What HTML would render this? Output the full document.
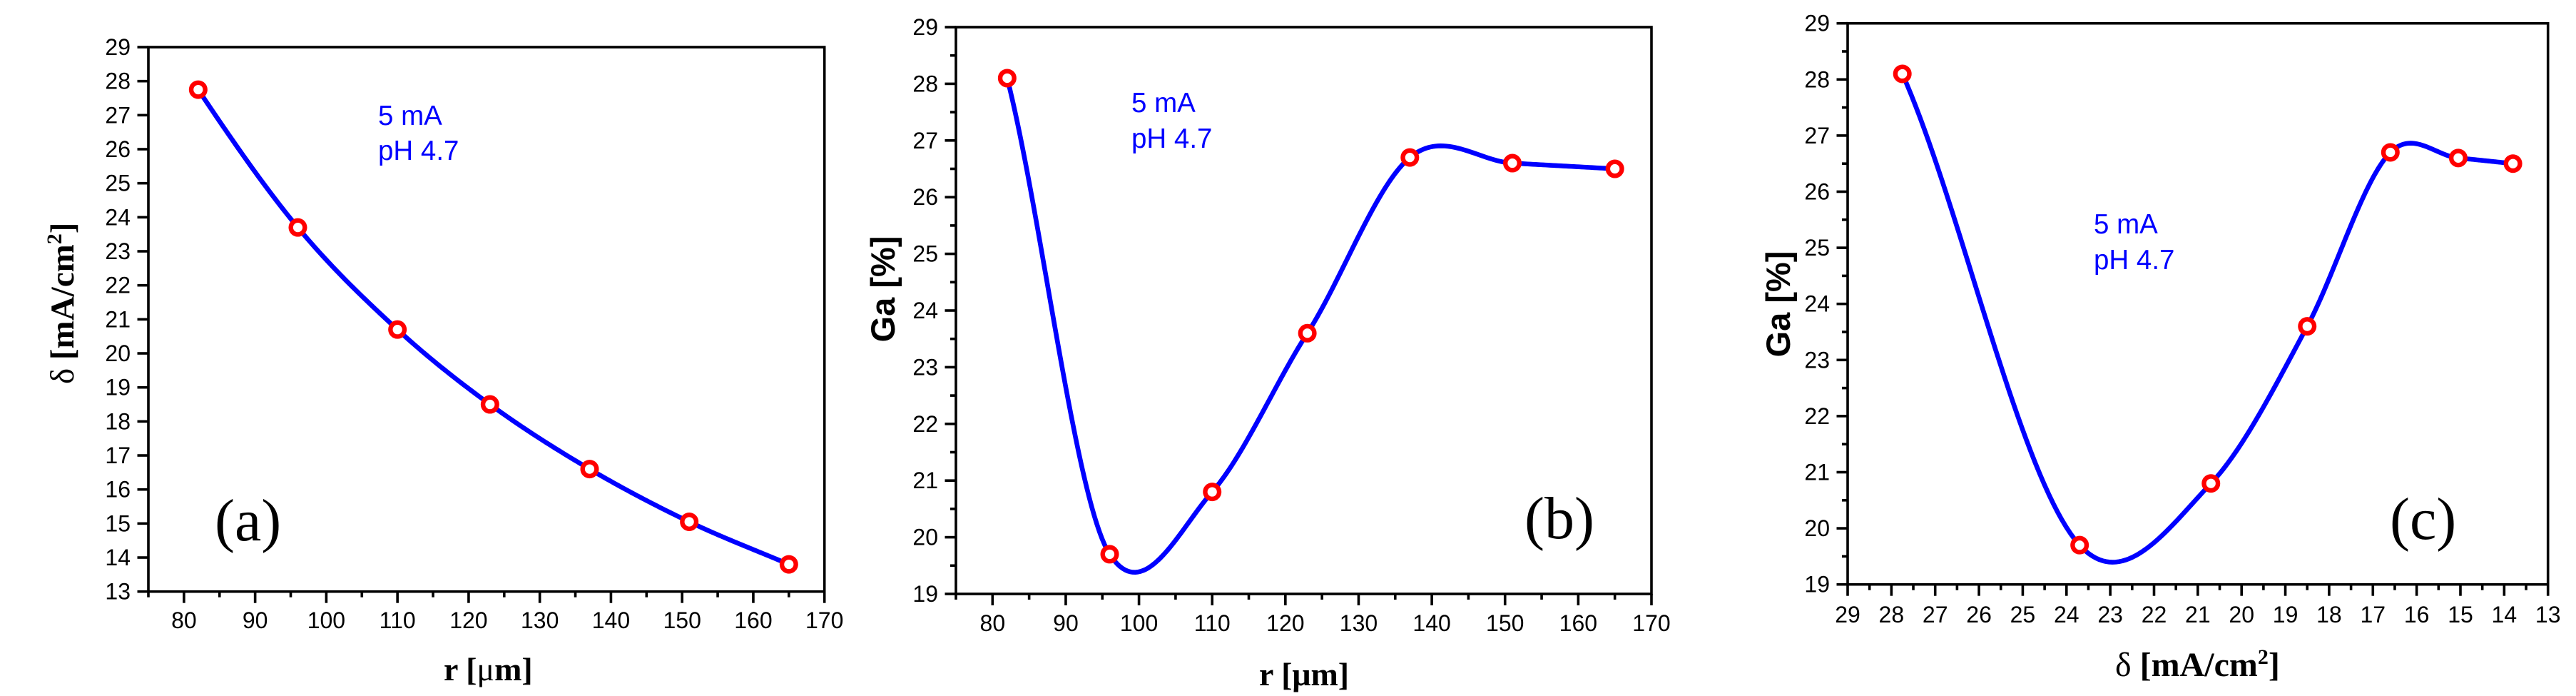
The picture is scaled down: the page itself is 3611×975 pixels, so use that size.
<!DOCTYPE html>
<html lang="en">
<head>
<meta charset="utf-8">
<title>Current density and gallium content charts</title>
<style>
  html, body { margin: 0; padding: 0; background: #fff; }
  svg { display: block; }
  .tick-label { font-family: "Liberation Sans", sans-serif; font-size: 32px; fill: #000; }
  .note { font-family: "Liberation Sans", sans-serif; font-size: 38.5px; fill: #0000ff; }
  .panel-tag { font-family: "Liberation Serif", serif; font-size: 84px; fill: #000; }
  .serif-title { font-family: "Liberation Serif", serif; font-size: 47px; font-weight: bold; fill: #000; }
  .sans-title { font-family: "Liberation Sans", sans-serif; font-size: 47px; font-weight: bold; fill: #000; }
  .thin { font-weight: normal; }
</style>
</head>
<body>
<svg id="figure" xmlns="http://www.w3.org/2000/svg" width="3611" height="975" viewBox="0 0 3611 975">
  <rect x="0" y="0" width="3611" height="975" fill="#ffffff"/>

  <g id="panel-a"></g>
  <g id="panel-b"></g>
  <g id="panel-c"></g>

  <text class="serif-title" transform="translate(103,538) rotate(-90)"><tspan class="thin">δ</tspan> [mA/cm<tspan font-size="30" dy="-17">2</tspan><tspan dy="17">]</tspan></text>
  <text class="serif-title" x="622" y="953" style="font-size:46px">r [<tspan class="thin">μ</tspan>m]</text>
  <text class="note" x="530" y="175">5 mA</text>
  <text class="note" x="530" y="224">pH 4.7</text>
  <text class="panel-tag" x="301" y="757">(a)</text>

  <text class="sans-title" transform="translate(1254,405) rotate(-90)" text-anchor="middle">Ga [%]</text>
  <text class="serif-title" x="1765" y="960" style="font-size:46px">r [μm]</text>
  <text class="note" x="1586" y="157">5 mA</text>
  <text class="note" x="1586" y="207">pH 4.7</text>
  <text class="panel-tag" x="2137" y="754">(b)</text>

  <text class="sans-title" transform="translate(2509,426) rotate(-90)" text-anchor="middle">Ga [%]</text>
  <text class="serif-title" x="2965" y="947" style="font-size:48px"><tspan class="thin">δ</tspan> [mA/cm<tspan font-size="30" dy="-17">2</tspan><tspan dy="17">]</tspan></text>
  <text class="note" x="2935" y="327">5 mA</text>
  <text class="note" x="2935" y="377">pH 4.7</text>
  <text class="panel-tag" x="3350" y="755">(c)</text>
</svg>

<script>
// Data
const radiusValues = [82, 96, 110, 123, 137, 151, 165];
const densityValues = [27.75, 23.7, 20.7, 18.5, 16.6, 15.05, 13.8];
const galliumValues = [28.1, 19.7, 20.8, 23.6, 26.7, 26.6, 26.5];

// Tick labels
const radiusTickLabels = [80, 90, 100, 110, 120, 130, 140, 150, 160, 170];
const radiusMinorTicks = [75, 85, 95, 105, 115, 125, 135, 145, 155, 165];
const densityTickLabels = [13, 14, 15, 16, 17, 18, 19, 20, 21, 22, 23, 24, 25, 26, 27, 28, 29];
const densityMinorTicks = [13.5, 14.5, 15.5, 16.5, 17.5, 18.5, 19.5, 20.5, 21.5, 22.5, 23.5, 24.5, 25.5, 26.5, 27.5, 28.5];
const galliumTickLabels = [19, 20, 21, 22, 23, 24, 25, 26, 27, 28, 29];
const galliumMinorTicks = [19.5, 20.5, 21.5, 22.5, 23.5, 24.5, 25.5, 26.5, 27.5, 28.5];
const noMinorTicks = [];

const SVG_NS = 'http://www.w3.org/2000/svg';

function scale(d0, d1, r0, r1) {
  return function (v) { return r0 + (v - d0) * (r1 - r0) / (d1 - d0); };
}

// Cubic Hermite curve through the points; tangents are the mean of neighbouring slopes
function curvePoints(x, y, perSegment, tangentLimit, startFactor) {
  const n = x.length;
  const slopes = [];
  for (let i = 0; i < n - 1; i++) {
    slopes.push((y[i + 1] - y[i]) / (x[i + 1] - x[i]));
  }
  const m = [];
  for (let i = 0; i < n; i++) {
    let t;
    if (i === 0) { t = startFactor * slopes[0]; }
    else if (i === n - 1) { t = slopes[n - 2]; }
    else {
      t = (slopes[i - 1] + slopes[i]) / 2;
      t = Math.max(-tangentLimit, Math.min(tangentLimit, t));
    }
    m.push(t);
  }
  const out = [];
  for (let i = 0; i < n - 1; i++) {
    const h = x[i + 1] - x[i];
    for (let k = 0; k <= perSegment; k++) {
      const u = k / perSegment;
      const u2 = u * u;
      const u3 = u2 * u;
      const val = (2 * u3 - 3 * u2 + 1) * y[i] + (u3 - 2 * u2 + u) * h * m[i] +
                  (-2 * u3 + 3 * u2) * y[i + 1] + (u3 - u2) * h * m[i + 1];
      out.push([x[i] + u * h, val]);
    }
  }
  return out;
}

function tickLine(parent, x1, y1, x2, y2) {
  const el = document.createElementNS(SVG_NS, 'line');
  el.setAttribute('x1', x1);
  el.setAttribute('y1', y1);
  el.setAttribute('x2', x2);
  el.setAttribute('y2', y2);
  el.setAttribute('stroke', '#000');
  el.setAttribute('stroke-width', '3.6');
  parent.appendChild(el);
  return el;
}

function tickText(parent, x, y, anchor, content) {
  const el = document.createElementNS(SVG_NS, 'text');
  el.setAttribute('class', 'tick-label');
  el.setAttribute('x', x);
  el.setAttribute('y', y);
  el.setAttribute('text-anchor', anchor);
  el.textContent = content;
  parent.appendChild(el);
  return el;
}

function drawPanel(id, box, xDomain, yDomain, xMajor, xMinor, yMajor, yMinor, xValues, yValues, xLabelBaseline, tangentLimit, startFactor) {
  const g = document.getElementById(id);
  const sx = scale(xDomain[0], xDomain[1], box.left, box.right);
  const sy = scale(yDomain[0], yDomain[1], box.bottom, box.top);

  const frame = document.createElementNS(SVG_NS, 'rect');
  
  
  frame.setAttribute('x', box.left);
  frame.setAttribute('y', box.top);
  frame.setAttribute('width', box.right - box.left);
  frame.setAttribute('height', box.bottom - box.top);
  frame.setAttribute('fill', 'none');
  frame.setAttribute('stroke', '#000');
  frame.setAttribute('stroke-width', '3.6');
  g.appendChild(frame);

  xMajor.forEach(function (v) {
    const t = tickLine(g, sx(v), box.bottom, sx(v), box.bottom + 16);
    
    
    const l = tickText(g, sx(v), xLabelBaseline, 'middle', String(v));
    
    
  });
  xMinor.forEach(function (v) {
    const t = tickLine(g, sx(v), box.bottom, sx(v), box.bottom + 8);
    
    
  });
  yMajor.forEach(function (v) {
    const t = tickLine(g, box.left - 15.5, sy(v), box.left, sy(v));
    
    
    const l = tickText(g, box.left - 25, sy(v) + 11, 'end', String(v));
    
    
  });
  yMinor.forEach(function (v) {
    const t = tickLine(g, box.left - 8, sy(v), box.left, sy(v));
    
    
  });

  const pts = curvePoints(xValues, yValues, 40, tangentLimit, startFactor);
  const path = document.createElementNS(SVG_NS, 'path');
  
  
  path.setAttribute('d', pts.map(function (p, i) {
    return (i ? 'L' : 'M') + sx(p[0]).toFixed(2) + ' ' + sy(p[1]).toFixed(2);
  }).join(' '));
  path.setAttribute('fill', 'none');
  path.setAttribute('stroke', '#0000ff');
  path.setAttribute('stroke-width', '6.6');
  path.setAttribute('stroke-linejoin', 'round');
  g.appendChild(path);

  xValues.forEach(function (v, i) {
    const c = document.createElementNS(SVG_NS, 'circle');
    
    
    c.setAttribute('cx', sx(v));
    c.setAttribute('cy', sy(yValues[i]));
    c.setAttribute('r', '9.8');
    c.setAttribute('fill', '#ffffff');
    c.setAttribute('stroke', '#ff0000');
    c.setAttribute('stroke-width', '6.4');
    g.appendChild(c);
  });
}

drawPanel('panel-a', { left: 208, right: 1155.7, top: 66, bottom: 828.7 }, [75, 170], [13, 29],
  radiusTickLabels, radiusMinorTicks, densityTickLabels, noMinorTicks, radiusValues, densityValues, 880, Infinity, 1.08);
drawPanel('panel-b', { left: 1340, right: 2315, top: 38, bottom: 832 }, [75, 170], [19, 29],
  radiusTickLabels, radiusMinorTicks, galliumTickLabels, galliumMinorTicks, radiusValues, galliumValues, 884, 0.2, 0.85);
drawPanel('panel-c', { left: 2590, right: 3571.7, top: 32.7, bottom: 818.7 }, [29, 13], [19, 29],
  densityTickLabels, densityMinorTicks, galliumTickLabels, galliumMinorTicks, densityValues, galliumValues, 872, Infinity, 0.85);
</script>
</body>
</html>
